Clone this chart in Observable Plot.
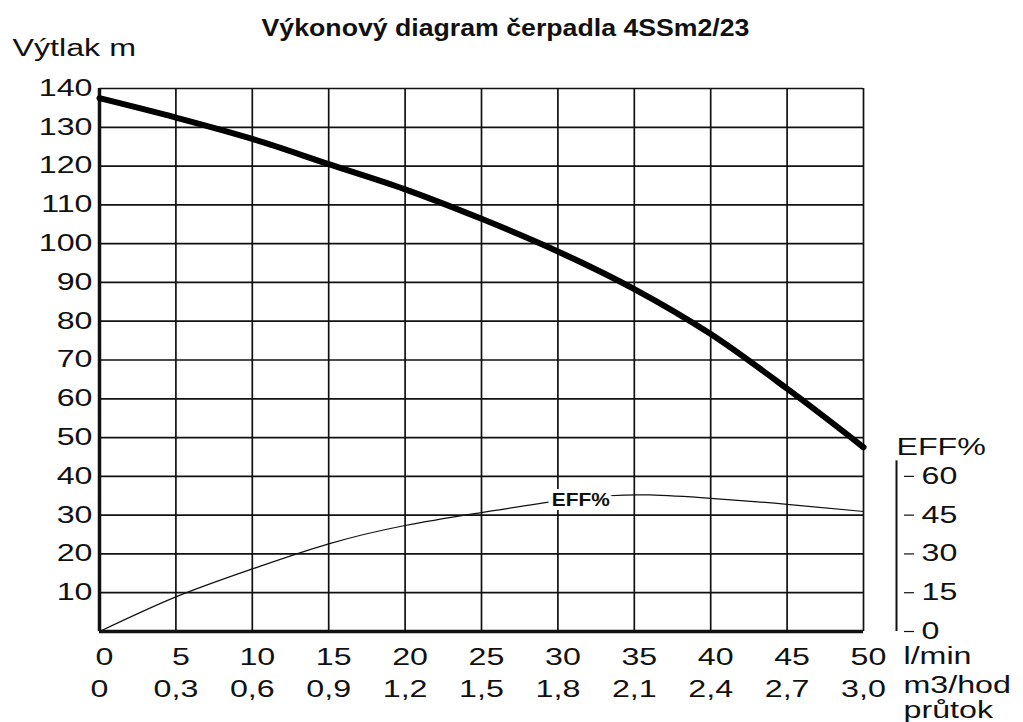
<!DOCTYPE html>
<html>
<head>
<meta charset="utf-8">
<script src="https://cdn.jsdelivr.net/npm/d3@7"></script>
<script src="https://cdn.jsdelivr.net/npm/@observablehq/plot@0.6"></script>
<style>
  html, body { margin: 0; padding: 0; background: #fff; }
  #chart svg { display: block; }
</style>
</head>
<body>
<div id="chart"></div>
<script>
// ---- data ----
const title = "Výkonový diagram čerpadla 4SSm2/23";
const flowTicks = [0, 5, 10, 15, 20, 25, 30, 35, 40, 45, 50];           // l/min
const flowM3Labels = ["0", "0,3", "0,6", "0,9", "1,2", "1,5", "1,8", "2,1", "2,4", "2,7", "3,0"]; // m3/hod
const headTicks = [10, 20, 30, 40, 50, 60, 70, 80, 90, 100, 110, 120, 130, 140];
const effTicks = [0, 15, 30, 45, 60];

// head curve (m) vs flow (l/min)
const headFlow = [0, 5, 10, 15, 20, 25, 30, 35, 40, 45, 50];
const headValues = [137.5, 132.5, 127, 120.5, 114, 106.4, 98, 88.3, 76.7, 62.6, 47.5];

// efficiency curve (%) vs flow (l/min)
const effFlow = [0, 5, 10, 15, 20, 25, 30, 33.4, 36, 40, 45, 50];
const effValues = [0, 13.4, 24.2, 33.9, 41, 46, 50.5, 52.5, 52.8, 51.5, 49.2, 46.4];
const effLabelFlow = 31.5, effLabelValue = 50.7;

// EFF% axis: 60 % sits on the 40 m line
const effPerMeter = 1.5;

const head = headFlow.map((f, i) => ({flow: f, head: headValues[i]}));
const eff = effFlow.map((f, i) => ({flow: f, m: effValues[i] / effPerMeter}));

const font = "Liberation Sans, Arial, Helvetica, sans-serif";
const fs = 23;

const chart = Plot.plot({
  width: 1023,
  height: 722,
  marginLeft: 99,
  marginRight: 160,
  marginTop: 88,
  marginBottom: 91,
  style: {fontFamily: font, fontSize: fs + "px", color: "#111", background: "#fff", overflow: "visible"},
  x: {domain: [0, 50]},
  y: {domain: [0, 140]},
  marks: [
    Plot.gridX({ticks: flowTicks, stroke: "#111", strokeOpacity: 1, strokeWidth: 1.7}),
    Plot.gridY({ticks: headTicks, stroke: "#111", strokeOpacity: 1, strokeWidth: 1.7}),
    Plot.ruleX([0], {stroke: "#111", strokeWidth: 3.5}),
    Plot.ruleY([0], {stroke: "#111", strokeWidth: 3.5}),
    // left axis
    Plot.axisY({ticks: headTicks, tickSize: 0, tickPadding: 7, label: null, fontSize: fs}),
    // x axis row 1 (l/min)
    Plot.axisX({ticks: flowTicks, tickSize: 0, tickPadding: 17, label: null, fontSize: fs, dx: 5}),
    // x axis row 2 (m3/hod)
    Plot.axisX({ticks: flowTicks, tickSize: 0, tickPadding: 49, label: null, fontSize: fs,
                tickFormat: (d) => flowM3Labels[flowTicks.indexOf(d)]}),
    // efficiency curve
    Plot.line(eff, {x: "flow", y: "m", stroke: "#111", strokeWidth: 1.2, curve: "natural"}),
    Plot.text([{flow: effLabelFlow, m: effLabelValue / effPerMeter}], {
      x: "flow", y: "m", text: () => "EFF%", fontWeight: "bold", fontSize: 18,
      stroke: "white", strokeWidth: 8, fill: "#111"
    }),
    // head curve
    Plot.line(head, {x: "flow", y: "head", stroke: "#000", strokeWidth: 6, curve: "catmull-rom"}),
    // right EFF% axis
    Plot.ruleX([50], {y1: 0, y2: 66 / effPerMeter, dx: 33, stroke: "#111", strokeWidth: 2}),
    Plot.axisY({anchor: "right", ticks: effTicks.map((d) => d / effPerMeter), tickSize: 10, tickPadding: 8,
                dx: 40, tickFormat: (d) => String(Math.round(d * effPerMeter)), label: null, fontSize: fs, strokeWidth: 1.2}),
    Plot.text(["EFF%"], {x: 50, y: 66 / effPerMeter, dx: 33, dy: -6, text: (d) => d, textAnchor: "start",
                         lineAnchor: "bottom", fontSize: fs}),
    // units
    Plot.text(["l/min"], {frameAnchor: "bottom-right", dx: 40, dy: 25, text: (d) => d, textAnchor: "start", lineAnchor: "middle", fontSize: fs}),
    Plot.text(["m3/hod"], {frameAnchor: "bottom-right", dx: 40, dy: 54, text: (d) => d, textAnchor: "start", lineAnchor: "middle", fontSize: fs}),
    Plot.text(["průtok"], {frameAnchor: "bottom-right", dx: 40, dy: 79, text: (d) => d, textAnchor: "start", lineAnchor: "middle", fontSize: fs}),
    // y label
    Plot.text(["Výtlak m"], {frameAnchor: "top-left", dx: -87, dy: -40, text: (d) => d, textAnchor: "start", lineAnchor: "middle", fontSize: fs}),
    // title
    Plot.text([title], {frameAnchor: "top-left", dx: 406, dy: -60, text: (d) => d, textAnchor: "middle", lineAnchor: "middle",
                        fontWeight: "bold", fontSize: 23})
  ]
});
document.getElementById("chart").appendChild(chart);

// the reference lettering is horizontally stretched: widen glyphs accordingly
d3.select(chart).selectAll("text").each(function() {
  const w = this.getComputedTextLength();
  if (!w) return;
  const bold = Number(getComputedStyle(this).fontWeight) >= 600;
  this.setAttribute("textLength", (w * (bold ? 1.16 : 1.4)).toFixed(1));
  this.setAttribute("lengthAdjust", "spacingAndGlyphs");
});
</script>
</body>
</html>
